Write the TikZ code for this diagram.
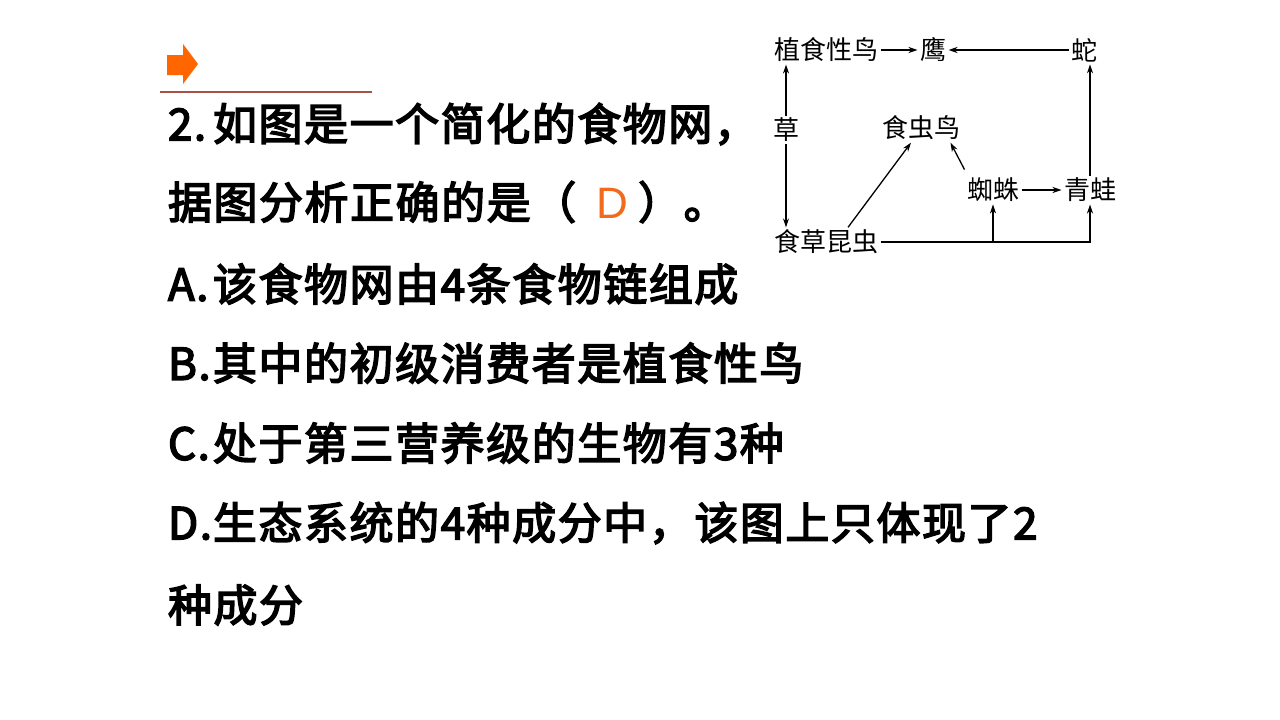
\documentclass[tikz,border=0pt]{standalone}
\usepackage{fontspec}
\setmainfont{Noto Sans CJK SC}
\newfontfamily\heifont{Noto Sans CJK SC}[FakeBold=3.5,LetterSpace=3.5]
\newfontfamily\arialfont{Liberation Sans}
\usetikzlibrary{arrows.meta}
\definecolor{arrowc}{HTML}{FF6600}
\definecolor{rulec}{HTML}{A8504A}
\definecolor{answerc}{HTML}{F26B1D}

\begin{document}
\begin{tikzpicture}[x=1pt,y=-1pt,
	qline/.style={anchor=west,inner sep=0,outer sep=0,font=\heifont\fontsize{44}{50}\selectfont},
	sp/.style={inner sep=2.5pt,outer sep=0,font=\fontsize{26}{30}\selectfont},
	eat/.style={-{Stealth[length=9pt,width=6pt]},line width=1.3pt}]
	\useasboundingbox (0,0) rectangle (1280,720);
	\fill[white] (0,0) rectangle (1280,720);
	\fill[arrowc] (167,55) -- (183,55) -- (183,44) -- (198,64) -- (183,84) -- (183,75) -- (167,75) -- cycle;
	\draw[rulec,line width=1.2pt] (160,92) -- (372,92);
	\node[qline] (t1) at (168,124) {\makebox[45pt][l]{2.}如图是一个简化的食物网，};
	\node[qline] (t2) at (168,202) {据图分析正确的是（\hspace{20pt}{\arialfont\color{answerc}D}\hspace{10pt}）。};
	\node[qline] (t3) at (168,284) {\makebox[45pt][l]{A.}该食物网由4条食物链组成};
	\node[qline] (t4) at (168,363) {\makebox[45pt][l]{B.}其中的初级消费者是植食性鸟};
	\node[qline] (t5) at (168,443) {\makebox[45pt][l]{C.}处于第三营养级的生物有3种};
	\node[qline] (t6) at (168,523) {\makebox[45pt][l]{D.}生态系统的4种成分中，该图上只体现了2};
	\node[qline] (t7) at (168,605) {种成分};
	\node[sp] (1) at (826,50) {植食性鸟};
	\node[sp] (2) at (933,50) {鹰};
	\node[sp] (3) at (1084,50) {蛇};
	\node[sp] (4) at (786,130) {草};
	\node[sp] (5) at (921,128) {食虫鸟};
	\node[sp] (6) at (993,190) {蜘蛛};
	\node[sp] (7) at (1090,190) {青蛙};
	\node[sp] (8) at (826,242) {食草昆虫};
	\coordinate (b) at (6.south |- 8.east);
	\draw[eat] (1) -- (2);
	\draw[eat] (3) -- (2);
	\draw[eat] (4.north) -- (4.north |- 1.south);
	\draw[eat] (4.south) -- (4.south |- 8.north);
	\draw[eat] ([xshift=22pt]8.north) -- ([xshift=-10pt]5.south);
	\draw[eat] ([yshift=6pt]6.north west) -- ([xshift=-12pt]5.south east);
	\draw[eat] (6) -- (7);
	\draw[eat] (7.north) -- (7.north |- 3.south);
	\draw[eat] (8.east) -| (7.south);
	\draw[eat] (b) -- (6.south);
\end{tikzpicture}
\end{document}
